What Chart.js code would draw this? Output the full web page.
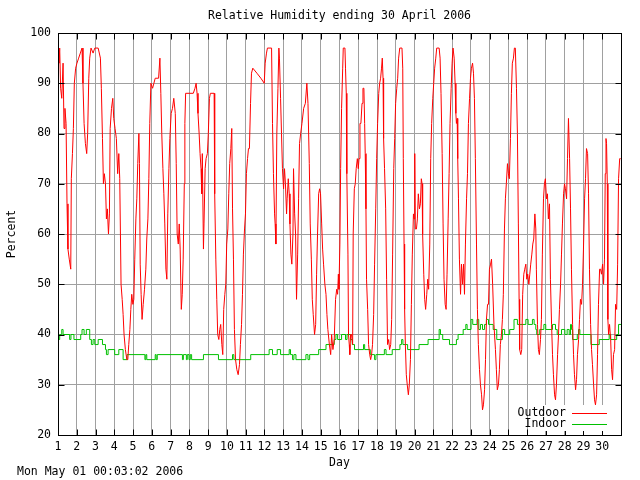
<!DOCTYPE html>
<html>
<head>
<meta charset="utf-8">
<script src="https://cdn.jsdelivr.net/npm/chart.js@4"></script>
<style>
  body { margin: 0; background: #fff; }
  #grafico { display: block; }
</style>
</head>
<body>
<canvas id="grafico" width="640" height="480"></canvas>
<script>
/* ----- Datos: día del mes (fracción) y humedad relativa ----- */
const outdoorDay = [
  1.00,1.05,1.09,1.14,1.20,1.27,1.32,1.37,1.43,1.48,1.53,1.60,1.68,1.71,1.77,1.82,1.87,1.94,
  2.01,2.10,2.19,2.28,2.33,2.39,2.46,2.53,2.58,2.64,2.69,2.76,2.87,2.96,
  3.14,3.26,3.31,3.37,3.42,3.47,3.53,3.58,3.63,3.69,3.74,3.78,3.85,3.92,3.97,
  4.04,4.11,4.18,4.24,4.29,4.36,4.42,4.47,4.52,4.59,4.67,4.72,4.77,4.83,4.88,4.93,4.99,
  5.04,5.09,5.15,5.20,5.25,5.31,5.34,5.38,5.43,5.48,5.54,5.61,5.68,5.73,5.79,5.84,5.89,5.95,
  6.04,6.11,6.18,6.36,6.43,6.48,6.53,6.59,6.64,6.69,6.75,6.80,6.85,6.91,6.96,
  7.03,7.10,7.17,7.25,7.30,7.35,7.41,7.46,7.51,7.57,7.62,7.67,7.73,7.76,7.80,
  8.03,8.21,8.30,8.36,8.41,8.46,8.52,8.57,8.62,8.66,8.69,8.75,8.78,8.84,8.89,8.96,
  9.01,9.07,9.12,9.32,9.35,9.41,9.46,9.51,9.57,9.62,9.67,9.73,9.78,9.83,9.89,9.94,9.99,
  10.05,10.10,10.15,10.21,10.26,10.30,10.35,10.40,10.46,10.53,10.60,10.67,10.72,10.78,10.83,10.88,10.94,10.99,
  11.04,11.10,11.15,11.20,11.26,11.31,11.38,11.60,11.81,11.99,
  12.04,12.11,12.16,12.38,12.43,12.48,12.54,12.57,12.61,12.66,12.72,12.77,12.80,12.86,12.91,12.96,
  13.02,13.07,13.12,13.18,13.21,13.27,13.32,13.36,13.41,13.46,13.52,13.55,13.61,13.66,13.71,13.77,13.82,13.87,13.93,
  14.00,14.09,14.18,14.26,14.32,14.39,14.44,14.50,14.55,14.60,14.67,14.73,14.78,14.83,14.89,14.94,14.99,
  15.05,15.10,15.15,15.22,15.28,15.33,15.38,15.46,15.53,15.58,15.65,15.72,15.79,15.85,15.90,15.94,15.97,
  16.02,16.06,16.11,16.17,16.20,16.29,16.32,16.36,16.39,16.45,16.48,16.52,16.55,16.59,16.64,16.70,16.73,16.79,16.84,16.89,16.95,
  17.00,17.04,17.09,17.14,17.20,17.25,17.30,17.34,17.37,17.41,17.44,17.50,17.55,17.61,17.66,17.71,17.76,17.82,17.87,17.93,17.98,
  18.03,18.09,18.14,18.19,18.24,18.28,18.32,18.35,18.40,18.46,18.51,18.56,18.62,18.67,18.73,18.78,18.83,18.89,18.94,18.99,
  19.05,19.10,19.15,19.21,19.33,19.37,19.40,19.44,19.47,19.51,19.56,19.61,19.67,19.72,19.78,19.83,19.88,19.94,19.97,
  20.01,20.04,20.10,20.15,20.20,20.26,20.31,20.36,20.40,20.43,20.49,20.54,20.59,20.65,20.70,20.75,20.81,20.86,20.91,20.97,
  21.02,21.07,21.13,21.18,21.31,21.36,21.41,21.47,21.52,21.57,21.63,21.68,21.73,21.79,21.84,21.89,21.95,
  22.00,22.05,22.11,22.16,22.20,22.23,22.27,22.30,22.34,22.39,22.45,22.50,22.56,22.61,22.66,22.71,22.77,22.82,22.87,22.93,22.98,
  23.03,23.09,23.14,23.19,23.24,23.30,23.35,23.40,23.46,23.51,23.57,23.62,23.67,23.73,23.78,23.83,23.89,23.94,23.99,
  24.05,24.10,24.16,24.23,24.31,24.36,24.41,24.47,24.52,24.57,24.63,24.68,24.73,24.79,24.84,24.89,24.95,
  25.00,25.05,25.11,25.16,25.21,25.27,25.32,25.37,25.43,25.48,25.53,25.57,25.60,25.66,25.71,25.76,25.82,25.87,25.93,25.98,
  26.03,26.09,26.14,26.19,26.25,26.30,26.35,26.41,26.46,26.49,26.55,26.60,26.65,26.71,26.76,26.81,26.87,26.92,26.97,
  27.03,27.08,27.13,27.19,27.24,27.30,27.35,27.40,27.46,27.51,27.56,27.62,27.67,27.72,27.78,27.83,27.88,27.94,27.99,
  28.04,28.10,28.15,28.20,28.26,28.31,28.36,28.42,28.47,28.52,28.58,28.63,28.68,28.74,28.79,28.84,28.90,28.95,
  29.00,29.06,29.11,29.16,29.22,29.27,29.32,29.38,29.43,29.48,29.54,29.59,29.64,29.70,29.75,29.80,29.86,29.91,29.96,
  30.02,30.07,30.12,30.16,30.20,30.23,30.27,30.30,30.34,30.39,30.45,30.50,30.55,30.60,30.66,30.71,30.77,30.82,30.87,30.93,30.98
];
const outdoorRH = [
  96,94,97,89,87,94,81,85,82,66,57,55,53,71,76,81,90,93,
  94,95,96,97,90,82,78,76,80,91,95,97,96,97,
  97,95,89,79,70,72,70,63,65,60,64,81,85,87,83,
  81,79,72,76,71,50,47,44,40,37,35,35,38,41,45,48,46,
  47,55,63,67,74,80,74,54,48,43,46,49,53,59,63,71,82,90,
  89,90,91,91,95,88,80,73,68,62,53,51,64,73,79,
  84,85,87,84,74,60,58,62,57,45,48,55,70,82,88,
  88,88,89,90,88,84,80,76,73,68,76,57,62,73,75,76,
  80,87,88,88,68,55,47,40,39,41,42,38,36,45,48,50,58,
  61,68,74,77,81,65,55,41,35,33,32,34,38,42,48,56,61,64,
  72,75,77,77,86,92,93,92,91,90,
  94,96,97,97,82,72,64,62,58,80,89,97,95,87,80,73,
  69,73,70,64,67,71,68,62,56,54,60,73,64,60,47,56,67,78,80,
  82,85,86,90,86,74,62,55,47,44,40,42,52,60,68,69,68,
  62,57,54,50,48,44,41,38,36,40,37,39,47,49,48,52,49,
  58,73,85,93,97,97,93,88,72,56,40,38,36,40,40,38,60,69,70,73,75,
  73,75,82,82,86,89,89,82,76,65,51,45,38,36,35,36,38,44,54,65,75,
  82,88,90,91,93,95,91,79,73,65,51,38,39,37,38,43,56,73,79,86,
  89,91,95,97,97,93,75,58,45,38,32,30,28,30,35,46,56,64,63,
  76,61,61,63,68,65,66,71,70,60,52,47,45,48,51,49,58,75,82,87,
  90,93,95,97,97,95,88,76,62,51,46,45,52,63,72,82,89,
  94,97,95,90,84,82,83,75,67,55,48,54,50,54,48,58,67,72,82,87,91,
  93,94,92,87,75,58,45,38,33,30,28,25,26,29,35,43,46,46,53,
  54,55,50,42,37,33,29,30,33,38,40,43,48,61,67,70,74,
  72,71,79,88,94,95,97,97,89,80,62,47,37,36,37,48,52,53,54,51,
  52,50,52,54,56,58,59,64,61,53,42,37,36,39,43,56,67,70,71,
  67,68,63,66,51,42,36,32,28,27,30,36,40,45,50,56,62,68,70,
  69,67,75,83,75,65,53,42,36,32,29,31,36,39,43,47,46,50,
  57,67,71,77,76,68,53,42,37,34,30,27,26,28,36,46,53,53,52,
  54,50,55,72,79,78,70,43,40,42,39,33,31,36,37,46,45,54,71,75,75
];

const indoorDay = [
  1.00,1.09,1.20,1.27,1.62,1.69,1.85,2.21,2.28,2.39,2.51,2.69,2.78,2.87,2.96,3.14,3.37,3.53,3.58,3.67,
  4.02,4.24,4.47,4.68,5.63,5.68,5.73,6.18,6.23,6.29,7.63,7.68,7.84,7.89,7.98,8.05,8.12,8.75,9.55,
  10.30,10.37,11.27,12.25,12.43,12.68,12.86,13.32,13.39,13.50,13.57,13.68,14.21,14.32,14.41,14.89,
  15.28,15.72,15.81,15.90,16.11,16.32,16.40,16.59,16.68,16.80,17.28,17.34,17.64,17.87,17.94,
  18.39,18.48,18.81,19.22,19.31,19.38,19.63,20.24,20.72,21.31,21.38,21.50,21.86,22.23,22.32,
  22.59,22.73,22.80,23.01,23.10,23.33,23.42,23.51,23.62,23.73,23.83,23.94,24.19,24.38,24.68,
  24.80,25.07,25.30,25.48,25.93,26.05,26.28,26.37,26.46,26.51,26.67,26.89,26.99,27.35,27.51,
  27.60,27.83,28.01,28.13,28.24,28.31,28.36,28.42,28.67,28.74,28.81,29.40,29.84,30.37,30.45,
  30.77,30.87,31.00
];
const indoorRH = [
  39,40,41,40,39,40,39,40,41,40,41,39,38,39,38,39,38,37,36,37,
  36,37,35,36,35,36,35,36,35,36,35,36,35,36,35,36,35,36,35,
  36,35,36,37,36,37,36,37,36,35,36,35,36,35,36,37,
  38,39,40,39,40,39,40,39,38,37,38,37,36,35,36,
  37,36,37,38,39,38,37,38,39,41,40,39,38,39,40,
  41,42,41,43,42,43,41,42,41,42,43,42,41,39,41,
  40,41,43,42,43,42,43,42,41,40,41,42,41,42,41,
  40,41,40,41,40,42,41,39,40,41,40,38,39,40,39,
  40,42,42
];

const yTicks = [20, 30, 40, 50, 60, 70, 80, 90, 100];
const dayTicks = Array.from({ length: 30 }, (_, i) => i + 1);

const fuente = '11.5px "DejaVu Sans Mono"';
const rojo = "#ff0000";
const verde = "#00c000";
const gris = "#a0a0a0";

Chart.defaults.font.family = "DejaVu Sans Mono";
Chart.defaults.font.size = 11.5;
Chart.defaults.color = "#000";

/* ----- Marco, marcas, textos y leyenda ----- */
const adornos = {
    id: "adornos",
    afterDraw(chart) {
        const ctx = chart.ctx;
        const a = chart.chartArea;
        const xs = chart.scales.x, ys = chart.scales.y;
        const px = v => Math.round(v) + 0.5;
        ctx.save();
        ctx.strokeStyle = "#000";
        ctx.lineWidth = 1;
        ctx.beginPath();
        dayTicks.forEach(d => {
            const x = px(xs.getPixelForValue(d));
            ctx.moveTo(x, px(a.top)); ctx.lineTo(x, px(a.top) + 6);
            ctx.moveTo(x, px(a.bottom)); ctx.lineTo(x, px(a.bottom) - 6);
        });
        yTicks.forEach(v => {
            const y = px(ys.getPixelForValue(v));
            ctx.moveTo(px(a.left), y); ctx.lineTo(px(a.left) + 6, y);
            ctx.moveTo(px(a.right), y); ctx.lineTo(px(a.right) - 6, y);
        });
        ctx.stroke();
        ctx.strokeRect(px(a.left), px(a.top), Math.round(a.right) - Math.round(a.left), Math.round(a.bottom) - Math.round(a.top));

        ctx.fillStyle = "#000";
        ctx.font = fuente;
        ctx.textBaseline = "middle";
        ctx.textAlign = "center";
        ctx.fillText("Relative Humidity ending 30 April 2006", (a.left + a.right) / 2, 16);
        ctx.fillText("Day", (a.left + a.right) / 2, 463);
        ctx.textAlign = "left";
        ctx.fillText("Mon May 01 00:03:02 2006", 17, 472);
        ctx.save();
        ctx.translate(12, 234);
        ctx.rotate(-Math.PI / 2);
        ctx.textAlign = "center";
        ctx.fillText("Percent", 0, 0);
        ctx.restore();

        // leyenda
        ctx.fillStyle = "#fff";
        ctx.fillRect(534, 405, 80, 26);
        ctx.fillStyle = "#000";
        ctx.textAlign = "right";
        ctx.fillText("Outdoor", 566, 413);
        ctx.fillText("Indoor", 566, 424);
        ctx.beginPath();
        ctx.strokeStyle = rojo;
        ctx.moveTo(572, 413.5); ctx.lineTo(607, 413.5);
        ctx.stroke();
        ctx.beginPath();
        ctx.strokeStyle = verde;
        ctx.moveTo(572, 424.5); ctx.lineTo(607, 424.5);
        ctx.stroke();
        ctx.restore();
    }
};

new Chart(document.getElementById("grafico"), {
    type: "line",
    data: {
        datasets: [{
            label: "Outdoor",
            data: outdoorDay.map((d, i) => ({ x: d, y: outdoorRH[i] })),
            borderColor: rojo,
            borderWidth: 1,
            pointRadius: 0
        }, {
            label: "Indoor",
            data: indoorDay.map((d, i) => ({ x: d, y: indoorRH[i] })),
            borderColor: verde,
            borderWidth: 1,
            pointRadius: 0,
            stepped: true
        }]
    },
    options: {
        responsive: false,
        devicePixelRatio: 1,
        animation: false,
        layout: { padding: { top: 33, right: 19, left: 0, bottom: 0 } },
        plugins: { legend: { display: false }, tooltip: { enabled: false } },
        scales: {
            x: {
                type: "linear",
                min: 1, max: 31,
                afterFit: s => { s.height = 45; },
                afterBuildTicks: s => { s.ticks = dayTicks.concat([31]).map(v => ({ value: v })); },
                ticks: {
                    autoSkip: false, maxRotation: 0, padding: 5,
                    callback: v => (v <= 30 ? String(v) : "")
                },
                grid: { color: gris, drawTicks: false },
                border: { display: false }
            },
            y: {
                min: 20, max: 100,
                afterFit: s => { s.width = 58; },
                afterBuildTicks: s => { s.ticks = yTicks.map(v => ({ value: v })); },
                ticks: { padding: 7 },
                grid: { color: gris, drawTicks: false },
                border: { display: false }
            }
        }
    },
    plugins: [adornos]
});
</script>
</body>
</html>
